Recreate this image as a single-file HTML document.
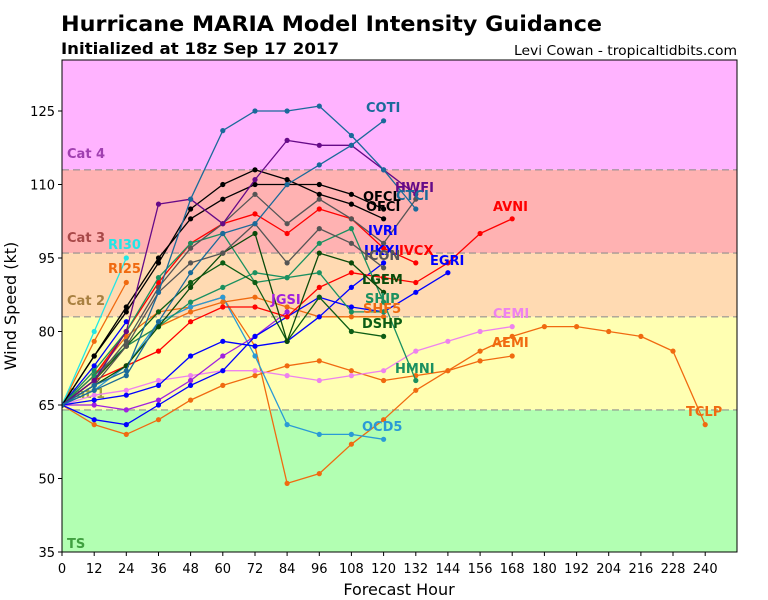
<!DOCTYPE html>
<html>
<head>
<meta charset="utf-8">
<style>
html,body{margin:0;padding:0;background:#fff;}
svg{display:block;}
text{font-family:"DejaVu Sans","Liberation Sans",sans-serif;}
.lbl{font-size:13px;font-weight:bold;}
.tk{font-size:13px;fill:#000;}
</style>
</head>
<body>
<svg width="768" height="600" viewBox="0 0 768 600" xmlns="http://www.w3.org/2000/svg">
<defs>
<marker id="mteal" markerUnits="userSpaceOnUse" markerWidth="6" markerHeight="6" refX="3" refY="3"><circle cx="3" cy="3" r="2.6" fill="#1a6a9a"/></marker>
<marker id="mpur" markerUnits="userSpaceOnUse" markerWidth="6" markerHeight="6" refX="3" refY="3"><circle cx="3" cy="3" r="2.6" fill="#660a88"/></marker>
<marker id="mblk" markerUnits="userSpaceOnUse" markerWidth="6" markerHeight="6" refX="3" refY="3"><circle cx="3" cy="3" r="2.6" fill="#000"/></marker>
<marker id="mgray" markerUnits="userSpaceOnUse" markerWidth="6" markerHeight="6" refX="3" refY="3"><circle cx="3" cy="3" r="2.6" fill="#555"/></marker>
<marker id="mred" markerUnits="userSpaceOnUse" markerWidth="6" markerHeight="6" refX="3" refY="3"><circle cx="3" cy="3" r="2.6" fill="#ff0000"/></marker>
<marker id="mblue" markerUnits="userSpaceOnUse" markerWidth="6" markerHeight="6" refX="3" refY="3"><circle cx="3" cy="3" r="2.6" fill="#0000ff"/></marker>
<marker id="mmag" markerUnits="userSpaceOnUse" markerWidth="6" markerHeight="6" refX="3" refY="3"><circle cx="3" cy="3" r="2.6" fill="#a020e0"/></marker>
<marker id="mpink" markerUnits="userSpaceOnUse" markerWidth="6" markerHeight="6" refX="3" refY="3"><circle cx="3" cy="3" r="2.6" fill="#ee82ee"/></marker>
<marker id="morg" markerUnits="userSpaceOnUse" markerWidth="6" markerHeight="6" refX="3" refY="3"><circle cx="3" cy="3" r="2.6" fill="#f06a10"/></marker>
<marker id="mcyan" markerUnits="userSpaceOnUse" markerWidth="6" markerHeight="6" refX="3" refY="3"><circle cx="3" cy="3" r="2.6" fill="#22e6e6"/></marker>
<marker id="mocd" markerUnits="userSpaceOnUse" markerWidth="6" markerHeight="6" refX="3" refY="3"><circle cx="3" cy="3" r="2.6" fill="#2a9ad6"/></marker>
<marker id="mgrn" markerUnits="userSpaceOnUse" markerWidth="6" markerHeight="6" refX="3" refY="3"><circle cx="3" cy="3" r="2.6" fill="#1a9060"/></marker>
<marker id="mdg" markerUnits="userSpaceOnUse" markerWidth="6" markerHeight="6" refX="3" refY="3"><circle cx="3" cy="3" r="2.6" fill="#0a4a0a"/></marker>
<marker id="mdg2" markerUnits="userSpaceOnUse" markerWidth="6" markerHeight="6" refX="3" refY="3"><circle cx="3" cy="3" r="2.6" fill="#0d5d15"/></marker>
<clipPath id="plot"><rect x="62" y="60" width="675" height="492"/></clipPath>
</defs>

<!-- Titles -->
<text x="61" y="31" font-size="21" font-weight="bold" textLength="541" lengthAdjust="spacingAndGlyphs">Hurricane MARIA Model Intensity Guidance</text>
<text x="61" y="54" font-size="16" font-weight="bold" textLength="278" lengthAdjust="spacingAndGlyphs">Initialized at 18z Sep 17 2017</text>
<text x="737" y="55" font-size="13.5" text-anchor="end" textLength="223" lengthAdjust="spacingAndGlyphs">Levi Cowan - tropicaltidbits.com</text>

<!-- Bands -->
<rect x="62" y="60" width="675" height="109.8" fill="#ffb3ff"/>
<rect x="62" y="169.8" width="675" height="83.3" fill="#ffb2b2"/>
<rect x="62" y="253.1" width="675" height="63.7" fill="#ffdab2"/>
<rect x="62" y="316.8" width="675" height="93.1" fill="#ffffb2"/>
<rect x="62" y="409.9" width="675" height="142.1" fill="#b2ffb2"/>
<g stroke="#8a8a8a" stroke-opacity="0.75" stroke-width="1.4" stroke-dasharray="7,4">
<line x1="62" y1="169.8" x2="737" y2="169.8"/>
<line x1="62" y1="253.1" x2="737" y2="253.1"/>
<line x1="62" y1="316.8" x2="737" y2="316.8"/>
<line x1="62" y1="409.9" x2="737" y2="409.9"/>
</g>
<g class="lbl">
<text x="67" y="158" fill="#a040b0">Cat 4</text>
<text x="67" y="242" fill="#a84848">Cat 3</text>
<text x="67" y="305" fill="#a88040">Cat 2</text>
<text x="67" y="398" fill="#a0a040">Cat 1</text>
<text x="67" y="548" fill="#40a040">TS</text>
</g>

<!-- Series -->
<g clip-path="url(#plot)" fill="none" stroke-width="1.3" stroke-linejoin="round">
<polyline stroke="#f06a10" marker-start="url(#morg)" marker-mid="url(#morg)" marker-end="url(#morg)" points="62,405 94.2,424.6 126.3,434.4 158.5,419.7 190.6,400.1 222.8,385.4 255,375.6 287.1,365.8 319.3,360.9 351.4,370.7 383.6,380.5 415.8,375.6 447.9,370.7 480.1,360.9 512.2,356"/>
<polyline stroke="#f06a10" marker-start="url(#morg)" marker-mid="url(#morg)" marker-end="url(#morg)" points="62,405 94.2,375.6 126.3,336.4 158.5,311.9 190.6,307 222.8,297.2 255,346.2 287.1,483.4 319.3,473.6 351.4,444.2 383.6,419.7 415.8,390.3 447.9,370.7 480.1,351.1 512.2,336.4 544.4,326.6 576.6,326.6 608.7,331.5 640.9,336.4 673,351.1 705.2,424.6"/>
<polyline stroke="#ee82ee" marker-start="url(#mpink)" marker-mid="url(#mpink)" marker-end="url(#mpink)" points="62,405 94.2,395.2 126.3,390.3 158.5,380.5 190.6,375.6 222.8,370.7 255,370.7 287.1,375.6 319.3,380.5 351.4,375.6 383.6,370.7 415.8,351.1 447.9,341.3 480.1,331.5 512.2,326.6"/>
<polyline stroke="#2a9ad6" marker-start="url(#mocd)" marker-mid="url(#mocd)" marker-end="url(#mocd)" points="62,405 94.2,390.3 126.3,365.8 158.5,321.7 190.6,307 222.8,297.2 255,356 287.1,424.6 319.3,434.4 351.4,434.4 383.6,439.3"/>
<polyline stroke="#f06a10" marker-start="url(#morg)" marker-mid="url(#morg)" marker-end="url(#morg)" points="62,405 94.2,380.5 126.3,346.2 158.5,326.6 190.6,311.9 222.8,302.1 255,297.2 287.1,307 319.3,316.8 351.4,316.8 383.6,316.8"/>
<polyline stroke="#f06a10" marker-start="url(#morg)" marker-mid="url(#morg)" marker-end="url(#morg)" points="62,405 94.2,341.3 126.3,282.5"/>
<polyline stroke="#22e6e6" marker-start="url(#mcyan)" marker-mid="url(#mcyan)" marker-end="url(#mcyan)" points="62,405 94.2,331.5 126.3,258"/>
<polyline stroke="#a020e0" marker-start="url(#mmag)" marker-mid="url(#mmag)" marker-end="url(#mmag)" points="62,405 94.2,405 126.3,409.9 158.5,400.1 190.6,380.5 222.8,356 255,336.4 287.1,311.9"/>
<polyline stroke="#0000ff" marker-start="url(#mblue)" marker-mid="url(#mblue)" marker-end="url(#mblue)" points="62,405 94.2,400.1 126.3,395.2 158.5,385.4 190.6,356 222.8,341.3 255,346.2 287.1,341.3 319.3,316.8 351.4,287.4 383.6,262.9"/>
<polyline stroke="#0000ff" marker-start="url(#mblue)" marker-mid="url(#mblue)" marker-end="url(#mblue)" points="62,405 94.2,419.7 126.3,424.6 158.5,405 190.6,385.4 222.8,370.7 255,336.4 287.1,316.8 319.3,297.2 351.4,307 383.6,311.9 415.8,292.3 447.9,272.7"/>
<polyline stroke="#0000ff" marker-start="url(#mblue)" marker-mid="url(#mblue)" marker-end="url(#mblue)" points="62,405 94.2,365.8 126.3,321.7"/>
<polyline stroke="#ff0000" marker-start="url(#mred)" marker-mid="url(#mred)" marker-end="url(#mred)" points="62,405 94.2,380.5 126.3,365.8 158.5,351.1 190.6,321.7 222.8,307 255,307 287.1,316.8 319.3,287.4 351.4,272.7 383.6,277.6 415.8,282.5 447.9,262.9 480.1,233.5 512.2,218.8"/>
<polyline stroke="#ff0000" marker-start="url(#mred)" marker-mid="url(#mred)" marker-end="url(#mred)" points="62,405 94.2,375.6 126.3,331.5 158.5,282.5 190.6,243.3 222.8,223.7 255,213.9 287.1,233.5 319.3,209 351.4,218.8 383.6,248.2 415.8,262.9"/>
<polyline stroke="#1a9060" marker-start="url(#mgrn)" marker-mid="url(#mgrn)" marker-end="url(#mgrn)" points="62,405 94.2,375.6 126.3,346.2 158.5,326.6 190.6,302.1 222.8,287.4 255,272.7 287.1,277.6 319.3,272.7 351.4,311.9 383.6,311.9"/>
<polyline stroke="#1a9060" marker-start="url(#mgrn)" marker-mid="url(#mgrn)" marker-end="url(#mgrn)" points="62,405 94.2,370.7 126.3,331.5 158.5,277.6 190.6,243.3 222.8,233.5 255,282.5 287.1,277.6 319.3,243.3 351.4,228.6 383.6,302.1 415.8,380.5"/>
<polyline stroke="#0d5d15" marker-start="url(#mdg2)" marker-mid="url(#mdg2)" marker-end="url(#mdg2)" points="62,405 94.2,380.5 126.3,346.2 158.5,311.9 190.6,282.5 222.8,262.9 255,282.5 287.1,341.3 319.3,297.2 351.4,331.5 383.6,336.4"/>
<polyline stroke="#0a4a0a" marker-start="url(#mdg)" marker-mid="url(#mdg)" marker-end="url(#mdg)" points="62,405 94.2,385.4 126.3,365.8 158.5,326.6 190.6,287.4 222.8,253.1 255,233.5 287.1,341.3 319.3,253.1 351.4,262.9 383.6,292.3"/>
<polyline stroke="#555" marker-start="url(#mgray)" marker-mid="url(#mgray)" marker-end="url(#mgray)" points="62,405 94.2,385.4 126.3,346.2 158.5,292.3 190.6,262.9 222.8,253.1 255,223.7 287.1,262.9 319.3,228.6 351.4,243.3 383.6,267.8"/>
<polyline stroke="#555" marker-start="url(#mgray)" marker-mid="url(#mgray)" marker-end="url(#mgray)" points="62,405 94.2,380.5 126.3,341.3 158.5,287.4 190.6,248.2 222.8,223.7 255,194.3 287.1,223.7 319.3,199.2 351.4,218.8 383.6,243.3 415.8,199.2"/>
<polyline stroke="#000" marker-start="url(#mblk)" marker-mid="url(#mblk)" marker-end="url(#mblk)" points="62,405 94.2,356 126.3,311.9 158.5,262.9 190.6,209 222.8,184.5 255,169.8 287.1,179.6 319.3,194.3 351.4,204.1 383.6,218.8"/>
<polyline stroke="#000" marker-start="url(#mblk)" marker-mid="url(#mblk)" marker-end="url(#mblk)" points="62,405 94.2,356 126.3,307 158.5,258 190.6,218.8 222.8,199.2 255,184.5 287.1,184.5 319.3,184.5 351.4,194.3 383.6,209"/>
<polyline stroke="#660a88" marker-start="url(#mpur)" marker-mid="url(#mpur)" marker-end="url(#mpur)" points="62,405 94.2,380.5 126.3,331.5 158.5,204.1 190.6,199.2 222.8,223.7 255,179.6 287.1,140.4 319.3,145.3 351.4,145.3 383.6,169.8 415.8,194.3"/>
<polyline stroke="#1a6a9a" marker-start="url(#mteal)" marker-mid="url(#mteal)" marker-end="url(#mteal)" points="62,405 94.2,390.3 126.3,375.6 158.5,321.7 190.6,272.7 222.8,233.5 255,223.7 287.1,184.5 319.3,164.9 351.4,145.3 383.6,120.8"/>
<polyline stroke="#1a6a9a" marker-start="url(#mteal)" marker-mid="url(#mteal)" marker-end="url(#mteal)" points="62,405 94.2,385.4 126.3,370.7 158.5,292.3 190.6,199.2 222.8,130.6 255,111 287.1,111 319.3,106.1 351.4,135.5 383.6,169.8 415.8,209"/>
</g>

<!-- Series labels -->
<g class="lbl">
<text x="366" y="112" fill="#1a6a9a">COTI</text>
<text x="395" y="192" fill="#660a88">HWFI</text>
<text x="396" y="200" fill="#1a6a9a">CTCI</text>
<text x="363" y="201" fill="#000">OFCL</text>
<text x="366" y="211" fill="#000">OFCI</text>
<text x="493" y="211" fill="#ff0000">AVNI</text>
<text x="368" y="235" fill="#0000ff">IVRI</text>
<text x="364" y="255" fill="#0000ff">UKXI</text>
<text x="399" y="255" fill="#ff0000">IVCX</text>
<text x="364" y="260" fill="#555">ICON</text>
<text x="430" y="265" fill="#0000ff">EGRI</text>
<text x="362" y="284" fill="#0a4a0a">LGEM</text>
<text x="365" y="303" fill="#1a9060">SHIP</text>
<text x="363" y="313" fill="#f06a10">SHF5</text>
<text x="362" y="328" fill="#0d5d15">DSHP</text>
<text x="271" y="304" fill="#a020e0">JGSI</text>
<text x="493" y="318" fill="#ee82ee">CEMI</text>
<text x="492" y="347" fill="#f06a10">AEMI</text>
<text x="395" y="373" fill="#1a9060">HMNI</text>
<text x="362" y="431" fill="#2a9ad6">OCD5</text>
<text x="686" y="416" fill="#f06a10">TCLP</text>
<text x="108" y="249" fill="#22e6e6">RI30</text>
<text x="108" y="273" fill="#f06a10">RI25</text>
</g>

<!-- Frame -->
<rect x="62" y="60" width="675" height="492" fill="none" stroke="#000" stroke-width="1"/>

<!-- Y ticks -->
<g stroke="#000" stroke-width="1">
<line x1="58" y1="552" x2="62" y2="552"/>
<line x1="58" y1="478.5" x2="62" y2="478.5"/>
<line x1="58" y1="405" x2="62" y2="405"/>
<line x1="58" y1="331.5" x2="62" y2="331.5"/>
<line x1="58" y1="258" x2="62" y2="258"/>
<line x1="58" y1="184.5" x2="62" y2="184.5"/>
<line x1="58" y1="111" x2="62" y2="111"/>
</g>
<g class="tk" text-anchor="end">
<text x="55" y="557">35</text>
<text x="55" y="483.5">50</text>
<text x="55" y="410">65</text>
<text x="55" y="336.5">80</text>
<text x="55" y="263">95</text>
<text x="55" y="189.5">110</text>
<text x="55" y="116">125</text>
</g>

<!-- X ticks -->
<g stroke="#000" stroke-width="1">
<line x1="62" y1="552" x2="62" y2="556"/>
<line x1="94.2" y1="552" x2="94.2" y2="556"/>
<line x1="126.3" y1="552" x2="126.3" y2="556"/>
<line x1="158.5" y1="552" x2="158.5" y2="556"/>
<line x1="190.6" y1="552" x2="190.6" y2="556"/>
<line x1="222.8" y1="552" x2="222.8" y2="556"/>
<line x1="255" y1="552" x2="255" y2="556"/>
<line x1="287.1" y1="552" x2="287.1" y2="556"/>
<line x1="319.3" y1="552" x2="319.3" y2="556"/>
<line x1="351.4" y1="552" x2="351.4" y2="556"/>
<line x1="383.6" y1="552" x2="383.6" y2="556"/>
<line x1="415.8" y1="552" x2="415.8" y2="556"/>
<line x1="447.9" y1="552" x2="447.9" y2="556"/>
<line x1="480.1" y1="552" x2="480.1" y2="556"/>
<line x1="512.2" y1="552" x2="512.2" y2="556"/>
<line x1="544.4" y1="552" x2="544.4" y2="556"/>
<line x1="576.6" y1="552" x2="576.6" y2="556"/>
<line x1="608.7" y1="552" x2="608.7" y2="556"/>
<line x1="640.9" y1="552" x2="640.9" y2="556"/>
<line x1="673" y1="552" x2="673" y2="556"/>
<line x1="705.2" y1="552" x2="705.2" y2="556"/>
</g>
<g class="tk" text-anchor="middle">
<text x="62" y="573">0</text>
<text x="94.2" y="573">12</text>
<text x="126.3" y="573">24</text>
<text x="158.5" y="573">36</text>
<text x="190.6" y="573">48</text>
<text x="222.8" y="573">60</text>
<text x="255" y="573">72</text>
<text x="287.1" y="573">84</text>
<text x="319.3" y="573">96</text>
<text x="351.4" y="573">108</text>
<text x="383.6" y="573">120</text>
<text x="415.8" y="573">132</text>
<text x="447.9" y="573">144</text>
<text x="480.1" y="573">156</text>
<text x="512.2" y="573">168</text>
<text x="544.4" y="573">180</text>
<text x="576.6" y="573">192</text>
<text x="608.7" y="573">204</text>
<text x="640.9" y="573">216</text>
<text x="673" y="573">228</text>
<text x="705.2" y="573">240</text>
</g>

<!-- Axis labels -->
<text x="399" y="595" font-size="16" text-anchor="middle">Forecast Hour</text>
<text transform="translate(16,306) rotate(-90)" font-size="16" text-anchor="middle">Wind Speed (kt)</text>
</svg>
</body>
</html>
